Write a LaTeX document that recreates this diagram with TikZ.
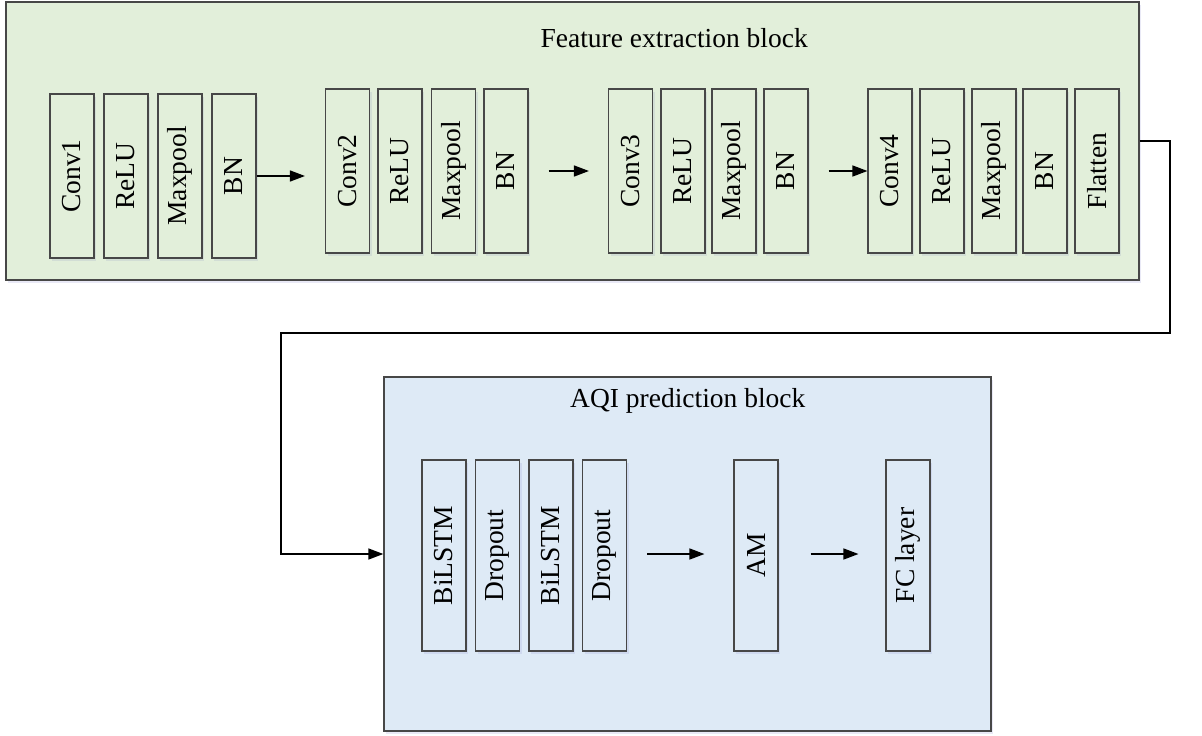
\documentclass[tikz,border=0pt]{standalone}
\usepackage{fontspec}
\usepackage{graphicx}
\setmainfont{Liberation Serif}
\usetikzlibrary{arrows.meta,shadows}
\definecolor{greenbg}{HTML}{E2EFDA}
\definecolor{bluebg}{HTML}{DEEAF6}
\definecolor{edge}{HTML}{474747}
\tikzset{
  block/.style={draw=edge, line width=1.3pt, inner sep=0pt,
    drop shadow={shadow xshift=2pt, shadow yshift=-3pt, opacity=0.12, fill=blue!40!gray}},
  layer/.style={draw=edge, line width=1.1pt, minimum width=44pt, minimum height=164pt,
    inner sep=0pt, font=\fontsize{27.5}{30}\selectfont,
    drop shadow={shadow xshift=2pt, shadow yshift=-3pt, opacity=0.10, fill=blue!40!gray}},
  glayer/.style={layer, fill=greenbg},
  blayer/.style={layer, fill=bluebg, minimum height=191pt},
  flow/.style={line width=1.4pt, -{Triangle[length=15pt,width=11pt]}},
  title/.style={font=\fontsize{27.5}{30}\selectfont, inner sep=0pt}
}
\newcommand{\vtext}[1]{\rotatebox{90}{#1}}
\begin{document}
\begin{tikzpicture}[x=1pt,y=-1pt]
\useasboundingbox (0,0) rectangle (1202,736);

% containers
\node[block, fill=greenbg, minimum width=1133pt, minimum height=278pt] (feat) at (572.5,141) {};
\node[block, fill=bluebg, minimum width=607pt, minimum height=354pt] (pred) at (687.5,554) {};
\node[title, anchor=base east] (ftitle) at (808,47) {Feature extraction block};
\node[title, anchor=base west] (ptitle) at (570,407) {AQI prediction block};

% convolution stage 1
\node[glayer] (conv1) at (72,176) {\vtext{Conv1}};
\node[glayer] (relu1) at (126,176) {\vtext{ReLU}};
\node[glayer] (pool1) at (180,176) {\vtext{Maxpool}};
\node[glayer] (bn1) at (234,176) {\vtext{BN}};
% convolution stage 2
\node[glayer] (conv2) at (347.5,171) {\vtext{Conv2}};
\node[glayer] (relu2) at (400,171) {\vtext{ReLU}};
\node[glayer] (pool2) at (453.5,171) {\vtext{Maxpool}};
\node[glayer] (bn2) at (506,171) {\vtext{BN}};
% convolution stage 3
\node[glayer] (conv3) at (630.5,171) {\vtext{Conv3}};
\node[glayer] (relu3) at (683,171) {\vtext{ReLU}};
\node[glayer] (pool3) at (734,171) {\vtext{Maxpool}};
\node[glayer] (bn3) at (786,171) {\vtext{BN}};
% convolution stage 4
\node[glayer] (conv4) at (890,171) {\vtext{Conv4}};
\node[glayer] (relu4) at (942,171) {\vtext{ReLU}};
\node[glayer] (pool4) at (994,171) {\vtext{Maxpool}};
\node[glayer] (bn4) at (1045,171) {\vtext{BN}};
\node[glayer] (flat) at (1097,171) {\vtext{Flatten}};

% prediction layers
\node[blayer] (lstm1) at (444,555.5) {\vtext{BiLSTM}};
\node[blayer] (drop1) at (497.5,555.5) {\vtext{Dropout}};
\node[blayer] (lstm2) at (551,555.5) {\vtext{BiLSTM}};
\node[blayer] (drop2) at (604.5,555.5) {\vtext{Dropout}};
\node[blayer] (am) at (756,555.5) {\vtext{AM}};
\node[blayer] (fc) at (908,555.5) {\vtext{FC layer}};

% arrows between stages
\draw[flow, shorten >=20pt] (bn1.east) -- (bn1.east -| conv2.west);
\draw[flow, shorten <=20pt, shorten >=19pt] (bn2.east) -- (conv3.west);
\draw[flow, shorten <=20pt] (bn3.east) -- (conv4.west);
\draw[flow, shorten <=20pt, shorten >=29pt] (drop2.east |- pred.west) -- (am.west |- pred.west);
\draw[flow, shorten <=32pt, shorten >=27pt] (am.east |- pred.west) -- (fc.west |- pred.west);

% link between the two blocks
\coordinate (turnR) at (1170,333);
\coordinate (turnL) at (281,333);
\draw[flow] (feat.east) -| (turnR) -- (turnL) |- (pred.west);
\end{tikzpicture}
\end{document}
